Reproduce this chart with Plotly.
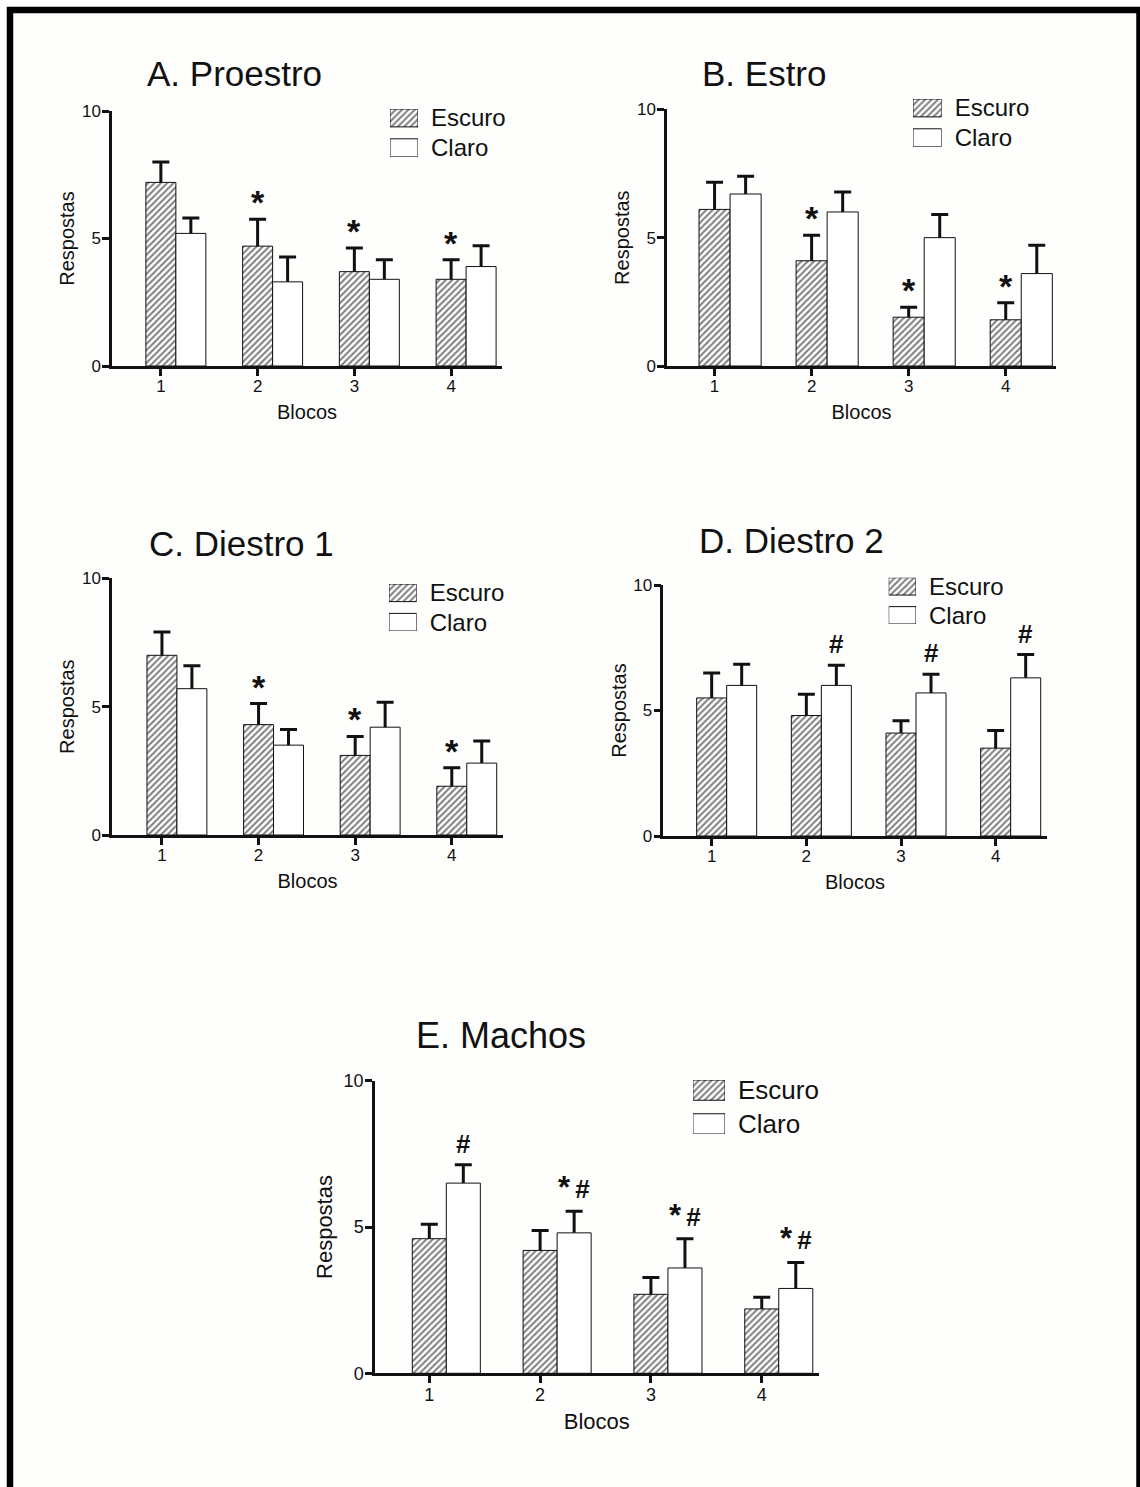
import plotly.graph_objects as go

W, H = 1140, 1487

# ---------------- data ----------------
blocks = [1, 2, 3, 4]
block_labels = ["1", "2", "3", "4"]
series_names = ["Escuro", "Claro"]
y_tick_vals = [0, 5, 10]
y_tick_labels = ["0", "5", "10"]
y_title = "Respostas"
x_title = "Blocos"

title_A = "A. Proestro"
escuro_A = [7.2, 4.7, 3.7, 3.4]
escuro_err_A = [0.8, 1.05, 0.93, 0.77]
claro_A = [5.2, 3.3, 3.4, 3.9]
claro_err_A = [0.6, 0.97, 0.77, 0.82]
sig_escuro_A = ["", "*", "*", "*"]
sig_claro_A = ["", "", "", ""]

title_B = "B. Estro"
escuro_B = [6.1, 4.1, 1.9, 1.8]
escuro_err_B = [1.06, 0.99, 0.39, 0.66]
claro_B = [6.7, 6.0, 5.0, 3.6]
claro_err_B = [0.69, 0.78, 0.9, 1.1]
sig_escuro_B = ["", "*", "*", "*"]
sig_claro_B = ["", "", "", ""]

title_C = "C. Diestro 1"
escuro_C = [7.0, 4.3, 3.1, 1.9]
escuro_err_C = [0.91, 0.82, 0.74, 0.72]
claro_C = [5.7, 3.5, 4.2, 2.8]
claro_err_C = [0.89, 0.61, 0.97, 0.86]
sig_escuro_C = ["", "*", "*", "*"]
sig_claro_C = ["", "", "", ""]

title_D = "D. Diestro 2"
escuro_D = [5.5, 4.8, 4.1, 3.5]
escuro_err_D = [0.99, 0.85, 0.49, 0.7]
claro_D = [6.0, 6.0, 5.7, 6.3]
claro_err_D = [0.84, 0.8, 0.74, 0.93]
sig_escuro_D = ["", "", "", ""]
sig_claro_D = ["", "#", "#", "#"]

title_E = "E. Machos"
escuro_E = [4.6, 4.2, 2.7, 2.2]
escuro_err_E = [0.49, 0.68, 0.57, 0.4]
claro_E = [6.5, 4.8, 3.6, 2.9]
claro_err_E = [0.63, 0.74, 1.0, 0.89]
sig_escuro_E = ["", "", "", ""]
sig_claro_E = ["#", "*#", "*#", "*#"]

panels_data = [
    (title_A, escuro_A, escuro_err_A, claro_A, claro_err_A, sig_escuro_A, sig_claro_A),
    (title_B, escuro_B, escuro_err_B, claro_B, claro_err_B, sig_escuro_B, sig_claro_B),
    (title_C, escuro_C, escuro_err_C, claro_C, claro_err_C, sig_escuro_C, sig_claro_C),
    (title_D, escuro_D, escuro_err_D, claro_D, claro_err_D, sig_escuro_D, sig_claro_D),
    (title_E, escuro_E, escuro_err_E, claro_E, claro_err_E, sig_escuro_E, sig_claro_E),
]

# ---------------- layout geometry (pixels) ----------------
geom = [
    dict(ax=(112, 502), ay=(111, 366), xr=(0.495, 4.526), bw=0.31,
         tpos=(145, 74), sw_x=(390, 418), sw_y=(109, 156.7), big=False),
    dict(ax=(667, 1056), ay=(109.3, 366), xr=(0.51, 4.518), bw=0.32,
         tpos=(700, 74), sw_x=(913, 941.7), sw_y=(99, 146.7), big=False),
    dict(ax=(112, 503), ay=(578.3, 835), xr=(0.483, 4.53), bw=0.31,
         tpos=(146.7, 543), sw_x=(389, 416.7), sw_y=(584, 631), big=False),
    dict(ax=(663.3, 1046.7), ay=(585, 836), xr=(0.489, 4.539), bw=0.317,
         tpos=(696.7, 540.5), sw_x=(888.7, 916), sw_y=(577.7, 624), big=False),
    dict(ax=(375, 818.6), ay=(1080.7, 1373.3), xr=(0.51, 4.513), bw=0.307,
         tpos=(414.3, 1035.5), sw_x=(692.9, 725), sw_y=(1080, 1134), big=True),
]

FONT = "Liberation Sans, Arial, Helvetica, sans-serif"
INK = "#111111"
hatch = dict(shape="/", fgcolor="#000000", bgcolor="white", size=4.5, solidity=0.46)


def px_x(v):
    return v / W


def px_y(v):
    return 1 - v / H


def sig_text(s):
    if s == "*":
        return "<span style='font-size:34px'>*</span>"
    return s.replace("*", "<span style='font-size:31px'>*</span>\u2009")


fig = go.Figure()
layout = dict(
    width=W, height=H, autosize=False,
    margin=dict(l=0, r=0, t=0, b=0, pad=0, autoexpand=False),
    paper_bgcolor="#fefefc", plot_bgcolor="rgba(0,0,0,0)",
    font=dict(family=FONT, color=INK),
    barmode="overlay", showlegend=False,
)
annotations = []

for i, (ptitle, esc, esc_err, cla, cla_err, sig_e, sig_c) in enumerate(panels_data):
    g = geom[i]
    k = i + 1
    xa = "x" if k == 1 else f"x{k}"
    ya = "y" if k == 1 else f"y{k}"
    bw = g["bw"]
    tick_fs = 18 if g["big"] else 17
    axt_fs = 22 if g["big"] else 20
    title_fs = 36 if g["big"] else 35
    leg_fs = 26 if g["big"] else 24

    # error bars first (lower halves get hidden by the opaque bars drawn after)
    for vals, errs, off in ((esc, esc_err, -bw / 2), (cla, cla_err, bw / 2)):
        fig.add_trace(go.Bar(
            x=blocks, y=vals, width=bw, offset=off, xaxis=xa, yaxis=ya,
            marker=dict(color="rgba(0,0,0,0)", line=dict(width=0)),
            error_y=dict(type="data", array=errs, symmetric=True, color=INK,
                         thickness=3, width=8.5),
            hoverinfo="skip", showlegend=False,
        ))
    fig.add_trace(go.Bar(
        x=blocks, y=esc, width=bw, offset=-bw / 2, xaxis=xa, yaxis=ya,
        name=series_names[0],
        marker=dict(color="white", pattern=hatch, line=dict(color=INK, width=1)),
    ))
    fig.add_trace(go.Bar(
        x=blocks, y=cla, width=bw, offset=bw / 2, xaxis=xa, yaxis=ya,
        name=series_names[1],
        marker=dict(color="white", line=dict(color=INK, width=1)),
    ))

    x0, x1 = g["ax"]
    yt, yb = g["ay"]
    layout["xaxis" if k == 1 else f"xaxis{k}"] = dict(
        domain=[px_x(x0), px_x(x1)], anchor=ya, range=list(g["xr"]),
        tickmode="array", tickvals=blocks, ticktext=block_labels,
        showline=True, linewidth=2.5, linecolor=INK, mirror=False,
        ticks="outside", ticklen=7, tickwidth=2.5, tickcolor=INK,
        ticklabelstandoff=-4,
        showgrid=False, zeroline=False, automargin=False,
        tickfont=dict(size=tick_fs, color=INK, family=FONT),
        title=dict(text=x_title, font=dict(size=axt_fs, color=INK, family=FONT), standoff=10),
        fixedrange=True,
    )
    layout["yaxis" if k == 1 else f"yaxis{k}"] = dict(
        domain=[px_y(yb), px_y(yt)], anchor=xa, range=[0, 10],
        tickmode="array", tickvals=y_tick_vals, ticktext=y_tick_labels,
        showline=True, linewidth=2.5, linecolor=INK,
        ticks="outside", ticklen=7, tickwidth=2.5, tickcolor=INK,
        ticklabelstandoff=-2,
        showgrid=False, zeroline=False, automargin=False,
        tickfont=dict(size=tick_fs, color=INK, family=FONT),
        title=dict(text=y_title, font=dict(size=axt_fs, color=INK, family=FONT),
                   standoff=5 if g["big"] else 2),
        fixedrange=True,
    )

    # panel title
    annotations.append(dict(
        text=ptitle, xref="paper", yref="paper",
        x=px_x(g["tpos"][0]), y=px_y(g["tpos"][1]),
        xanchor="left", yanchor="middle", showarrow=False,
        font=dict(size=title_fs, color=INK, family=FONT),
    ))

    # significance marks
    for vals, errs, sigs, shift in ((esc, esc_err, sig_e, 0.0), (cla, cla_err, sig_c, bw)):
        for b, v, e, s in zip(blocks, vals, errs, sigs):
            if s:
                annotations.append(dict(
                    text=sig_text(s), xref=xa, yref=ya, x=b + shift, y=v + e,
                    xanchor="center", yanchor="bottom", showarrow=False,
                    font=dict(size=26, color=INK, family=FONT, weight="bold"),
                    yshift=4 if "#" in s else -4,
                ))

    # legend: swatches drawn as bars on a small helper axis, labels as tick text
    k2 = k + 5
    xa2, ya2 = f"x{k2}", f"y{k2}"
    fig.add_trace(go.Bar(
        x=[1], y=[series_names[0]], orientation="h", width=0.6,
        xaxis=xa2, yaxis=ya2, hoverinfo="skip", showlegend=False,
        marker=dict(color="white", pattern=hatch, line=dict(color=INK, width=1)),
    ))
    fig.add_trace(go.Bar(
        x=[1], y=[series_names[1]], orientation="h", width=0.6,
        xaxis=xa2, yaxis=ya2, hoverinfo="skip", showlegend=False,
        marker=dict(color="white", line=dict(color=INK, width=1)),
    ))
    sx0, sx1 = g["sw_x"]
    sy0, sy1 = g["sw_y"]
    layout[f"xaxis{k2}"] = dict(
        domain=[px_x(sx0), px_x(sx1)], anchor=ya2, range=[0, 1],
        visible=False, fixedrange=True,
    )
    layout[f"yaxis{k2}"] = dict(
        domain=[px_y(sy1), px_y(sy0)], anchor=xa2, side="right",
        type="category", categoryorder="array",
        categoryarray=[series_names[1], series_names[0]],
        tickmode="array", tickvals=series_names, ticktext=series_names,
        range=[-0.3, 1.3], showline=False, showgrid=False, zeroline=False,
        ticks="", ticklabelstandoff=12, automargin=False,
        tickfont=dict(size=leg_fs, color=INK, family=FONT),
        fixedrange=True,
    )

layout["annotations"] = annotations
layout["shapes"] = [dict(
    type="rect", xref="paper", yref="paper",
    x0=px_x(10), x1=px_x(1139.5), y0=px_y(10), y1=px_y(1510),
    line=dict(color="black", width=6.5), fillcolor="rgba(0,0,0,0)",
)]

fig.update_layout(**layout)
fig.write_html(
    "out.html",
    config={"displayModeBar": False},
    post_script="document.body.style.margin='0';document.body.style.overflow='hidden';",
)
